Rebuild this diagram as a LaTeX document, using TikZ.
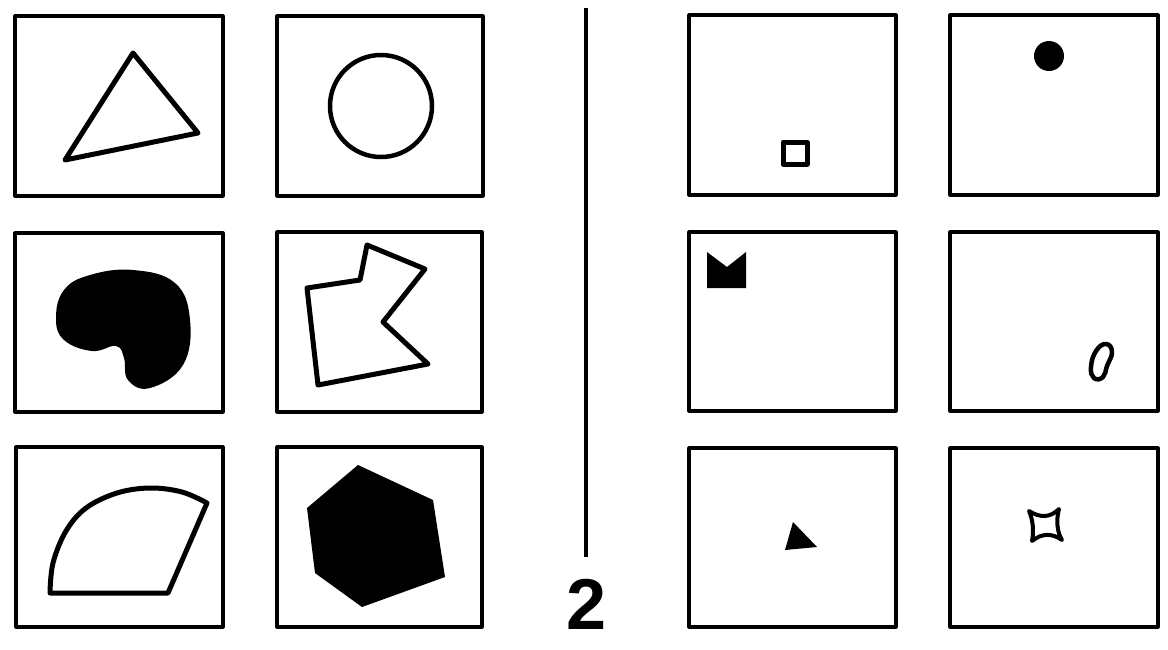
\documentclass[tikz,border=0pt]{standalone}
\usepackage{fontspec}
\setmainfont{Liberation Sans}
\begin{document}
\begin{tikzpicture}[x=1pt,y=-1pt,line join=round,
  card/.style={draw=black,line width=3.2pt,fill=white},
  outl/.style={draw=black,line width=5pt},
  solid/.style={fill=black,draw=black,line width=1pt}]
\useasboundingbox (0,0) rectangle (1168,649);
% left boxes
\draw[card] (15,16) rectangle (223,196);
\draw[card] (277,16) rectangle (483,196);
\draw[card] (15,233) rectangle (223,412);
\draw[card] (277,232) rectangle (482,412);
\draw[card] (16,447) rectangle (223,627);
\draw[card] (277,447) rectangle (482,627);
% right boxes
\draw[card] (689,15) rectangle (896,195);
\draw[card] (950,15) rectangle (1158,195);
\draw[card] (689,232) rectangle (896,411);
\draw[card] (950,232) rectangle (1158,411);
\draw[card] (689,448) rectangle (896,627);
\draw[card] (950,448) rectangle (1158,627);
% triangle
\draw[outl] (133,53) -- (198,133) -- (65,160) -- cycle;
% circle
\draw[line width=4.5pt] (381,106) circle (51);
% blob
\fill[black] plot[smooth cycle,tension=0.7] coordinates {(56,318) (64,290) (90,275) (133,270) (175,283) (190,320) (183,365) (150,388) (128,380) (124,358) (116,346) (92,351) (64,340)};
% polygon
\draw[outl] (367,245) -- (425,269) -- (383,322) -- (428,364) -- (318,385) -- (307,288) -- (360,280) -- cycle;
% fan
\draw[outl] (50,593) -- (168,593) -- (207,503) -- plot[smooth,tension=0.6] coordinates {(207,503) (182,492) (150,488) (117,493) (86,508) (66,531) (53,563) (50,593)} -- cycle;
% hexagon
\fill[black] (358,465) -- (433,500) -- (445,577) -- (362,607) -- (315,573) -- (307,508) -- cycle;
% divider and number
\draw[line width=4pt] (586,8) -- (586,557);
\node[font=\bfseries\fontsize{72}{72}\selectfont,inner sep=0pt] (num) at (587,604) {2};
% small shapes
\draw[line width=5pt] (783,142) rectangle (807,164);
\fill[black] (1049,56) circle (15);
\fill[black] (707,252) -- (727,267) -- (746,252) -- (746,288) -- (707,288) -- cycle;
\draw[line width=4.5pt] plot[smooth cycle,tension=0.8] coordinates {(1106,344) (1112,352) (1107,366) (1103,377) (1094,378) (1091,367) (1096,351)};
\fill[black] (793,522) -- (817,547) -- (785,550) -- cycle;
\draw[line width=4pt] (1029,511) .. controls (1040,518) and (1050,518) .. (1059,509) .. controls (1056,520) and (1057,532) .. (1062,540) .. controls (1052,533) and (1042,533) .. (1032,541) .. controls (1034,531) and (1033,520) .. cycle;
\end{tikzpicture}
\end{document}
